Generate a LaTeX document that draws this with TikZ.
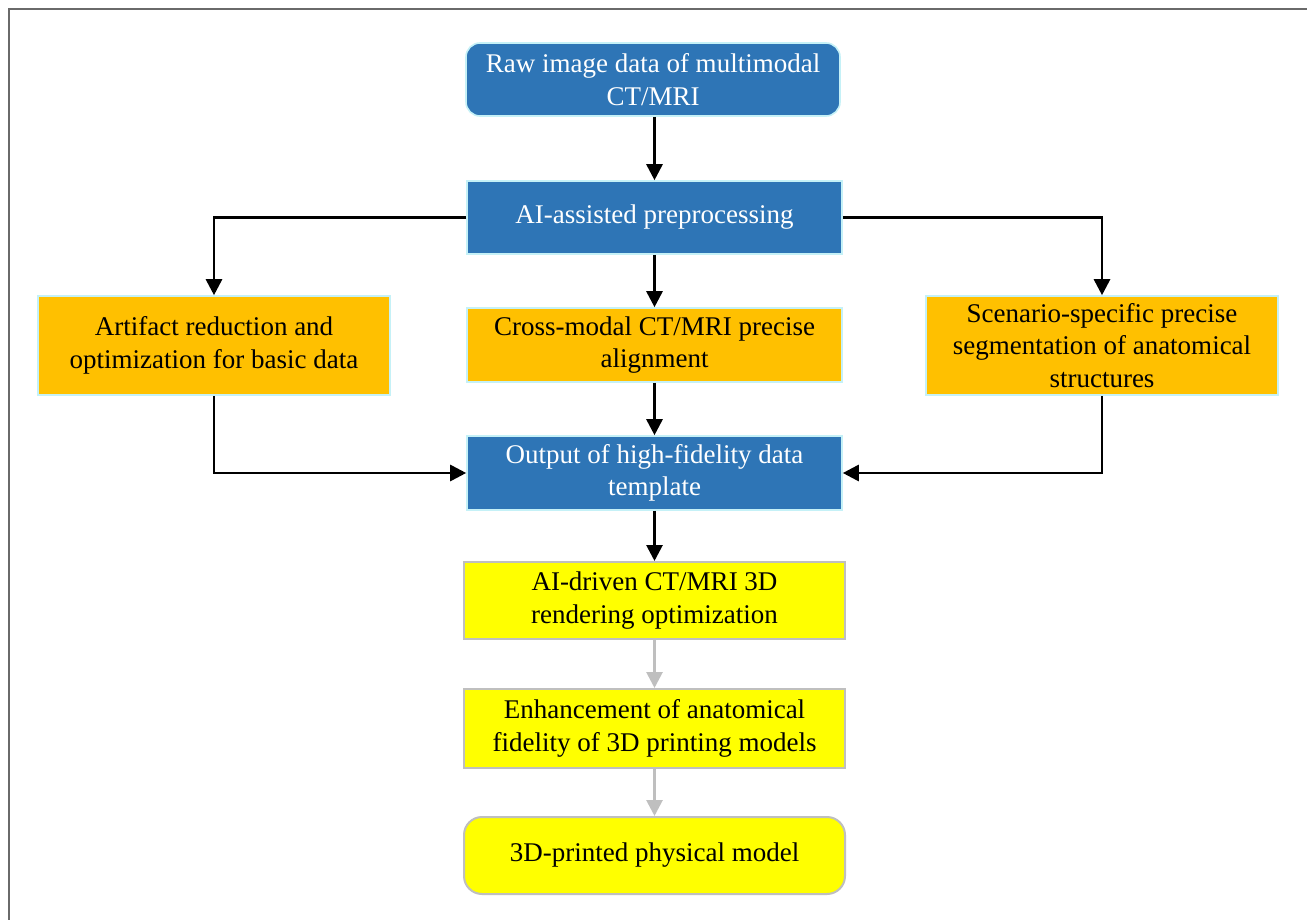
\documentclass[tikz,border=0pt]{standalone}
\usepackage{fontspec}
\setmainfont{Liberation Serif}
\usetikzlibrary{arrows.meta}
\definecolor{bluebox}{HTML}{2E75B6}
\definecolor{orangebox}{HTML}{FFC000}
\definecolor{yellowbox}{HTML}{FFFF00}
\definecolor{cyanline}{HTML}{C5F1F7}
\definecolor{grayline}{HTML}{BFBFBF}
\definecolor{framegray}{HTML}{6A6A6A}
\tikzset{
  box/.style={inner sep=0pt, align=center, font=\fontsize{13.5}{16.3}\selectfont},
  bluestep/.style={box, fill=bluebox, draw=cyanline, line width=0.8pt, text=white},
  orangestep/.style={box, fill=orangebox, draw=cyanline, line width=0.8pt, text=black},
  yellowstep/.style={box, fill=yellowbox, draw=grayline, line width=1pt, text=black},
  arr/.style={-{Triangle[length=8pt,width=8pt]}, line width=1.4pt, black},
  grayarr/.style={-{Triangle[length=8pt,width=8pt]}, line width=1.4pt, grayline},
}
\begin{document}
\begin{tikzpicture}[x=0.5pt,y=-0.5pt]
\useasboundingbox (0,0) rectangle (1307,920);
\fill[white] (0,0) rectangle (1307,920);
\draw[framegray, line width=1pt] (8.5,920) -- (8.5,9.5) -- (1307,9.5);

\node[bluestep, rounded corners=7pt, minimum width=187pt, minimum height=36.5pt] (raw) at (653,79.5) {Raw image data of multimodal\\CT/MRI};
\node[bluestep, minimum width=187.5pt, minimum height=36.5pt] (pre) at (654.5,217.5) {AI-assisted preprocessing};
\node[orangestep, minimum width=176pt, minimum height=49.5pt] (art) at (214,345.5) {Artifact reduction and\\optimization for basic data};
\node[orangestep, minimum width=187.5pt, minimum height=37pt] (cross) at (654.5,345) {Cross-modal CT/MRI precise\\alignment};
\node[orangestep, minimum width=176pt, minimum height=49.5pt] (scen) at (1102,345.5) {Scenario-specific precise\\segmentation of anatomical\\structures};
\node[bluestep, minimum width=187.5pt, minimum height=37pt] (out) at (654.5,473) {Output of high-fidelity data\\template};
\node[yellowstep, minimum width=190.5pt, minimum height=38.5pt] (ai3d) at (654.5,600.5) {AI-driven CT/MRI 3D\\rendering optimization};
\node[yellowstep, minimum width=190.5pt, minimum height=39.5pt] (enh) at (654.5,728.5) {Enhancement of anatomical\\fidelity of 3D printing models};
\node[yellowstep, rounded corners=9pt, minimum width=190.5pt, minimum height=38.5pt] (phys) at (654.5,855.5) {3D-printed physical model};

\draw[arr] (raw.south -| pre) -- (pre.north);
\draw[arr] (pre.west) -| (art.north);
\draw[arr] (pre.east) -| (scen.north);
\draw[arr] (pre.south) -- (cross.north);
\draw[arr] (art.south) |- (out.west);
\draw[arr] (scen.south) |- (out.east);
\draw[arr] (cross.south) -- (out.north);
\draw[arr] (out.south) -- (ai3d.north);
\draw[grayarr] (ai3d.south) -- (enh.north);
\draw[grayarr] (enh.south) -- (phys.north);
\end{tikzpicture}
\end{document}
